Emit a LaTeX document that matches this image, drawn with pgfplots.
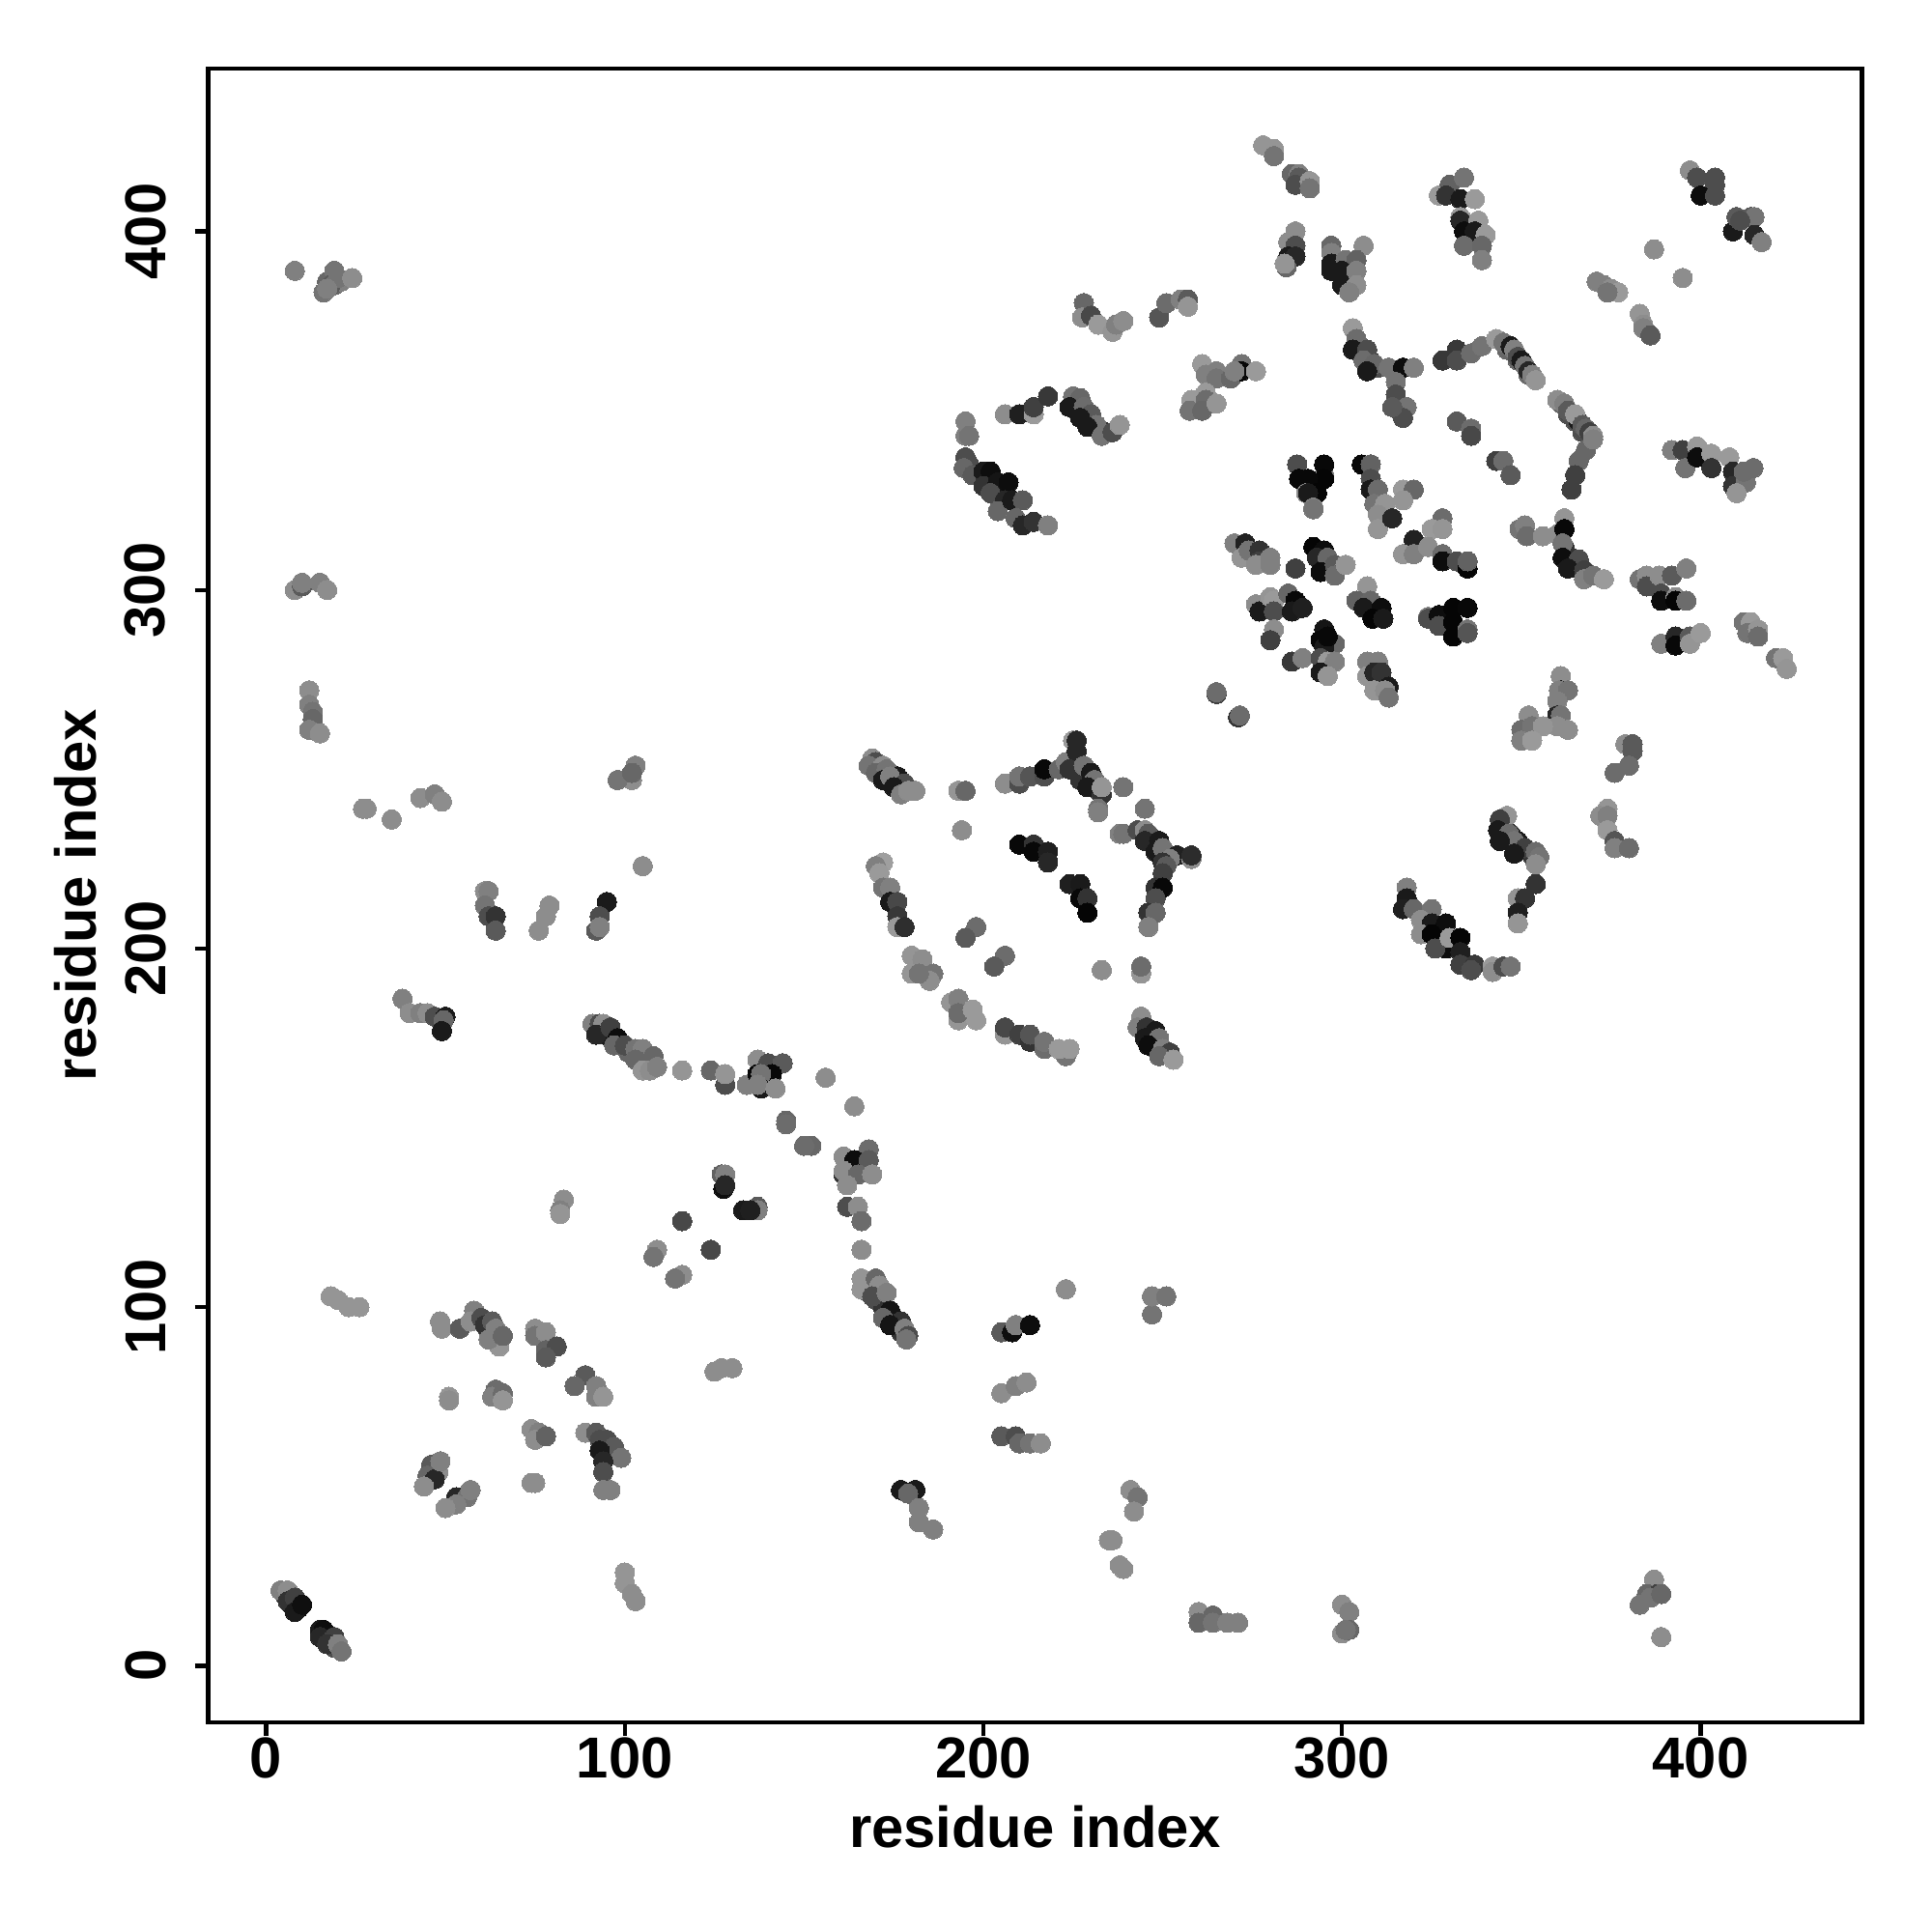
\documentclass[border=0pt]{standalone}
\usepackage{fontspec}
\setmainfont{Liberation Sans}
\usepackage{pgfplots}
\pgfplotsset{compat=1.18}
\begin{document}
\begin{tikzpicture}
\useasboundingbox (-2.156,-2.17) rectangle (17.844,17.83);
\begin{axis}[
  at={(0,0)},anchor=south west,
  scale only axis,width=17.12cm,height=17.12cm,
  xmin=-16.15,xmax=445,ymin=-15.8,ymax=445.4,
  axis line style={line width=1.25pt},
  tick style={line width=1.25pt,black},
  major tick length=0.14cm,
  tick align=outside,xtick pos=bottom,ytick pos=left,
  xtick={0,100,200,300,400},ytick={0,100,200,300,400},
  /pgf/number format/assume math mode=true,
  /pgf/number format/.cd,1000 sep={},/tikz/.cd,
  xticklabel style={font=\fontsize{17}{18}\selectfont\bfseries,yshift=3pt},
  yticklabel style={font=\fontsize{17}{18}\selectfont\bfseries,rotate=90,anchor=south,yshift=5pt},
  xlabel={residue index},ylabel={residue index},
  xlabel style={font=\fontsize{17}{18}\selectfont\bfseries,at={(axis description cs:0.5,-0.063)},anchor=center},
  ylabel style={font=\fontsize{17}{18}\selectfont\bfseries,at={(axis description cs:-0.08,0.5)},anchor=center,rotate=0},
  colormap={bw}{gray(0cm)=(0); gray(1cm)=(1)},
  point meta min=0,point meta max=1,
  clip=true,
]
\addplot[scatter,only marks,mark=*,mark size=2.85pt,scatter src=explicit,
  scatter/use mapped color={draw=mapped color,fill=mapped color},mark options={line width=0pt}]
 table[x=x,y=y,meta=g]{
x y g
171 250 .4
173 248 .3
175 246 .2
177 245 .3
94 176 .2
96 175 .1
99 173 .2
101 171 .4
168 104 .4
170 102 .3
172 100 .2
175 97 .1
177 93 .2
228 248 .2
230 246 .2
232 244 .3
247 175 .2
248 173 .2
250 171 .3
247 230 .3
249 228 .2
251 226 .3
305 366 .2
308 364 .2
310 362 .3
346 367 .4
349 364 .4
352 360 .4
361 352 .4
363 349 .3
365 347 .3
367 344 .3
369 343 .3
362 312 .2
364 309 .2
366 306 .2
368 305 .3
345 234 .2
347 232 .2
349 230 .1
351 228 .2
353 226 .2
226 350 .2
228 348 .1
230 347 .2
232 345 .2
234 344 .2
5 20 .3
7 17 .1
9 16 .05
16 8 .1
18 7 .1
19 5 .3
17 386 .4
19 385 .4
21 386 .5
62 93 .4
64 92 .3
95 60 .2
4 21 .5
6 21 .55
6 18 .2
8 19 .25
8 15 .1
10 17 .06
15 10 .1
16 10 .05
15 8 .15
19 8 .25
17 6 .2
20 6 .5
21 4 .45
18 103 .58
20 102 .58
23 100 .58
26 100 .58
48.5 96 .55
49 94 .55
54 94 .35
58 99 .5
57 96 .55
60 97 .3
61 95 .2
63 96 .35
64 94 .5
65 89 .58
62 91 .5
66 92 .4
75 94 .55
75 92 .45
78 93 .55
78 88 .38
81 89 .3
78 86 .35
89 81 .35
86 78 .4
92 78 .5
92 75 .5
94 75 .58
51 75 .58
51 74 .55
64 77 .42
63 75 .5
66 76 .42
66 74 .58
74 66 .55
76 65 .5
75 63 .55
78 64 .38
89 65 .55
92 65 .35
93 63 .3
95 63 .3
97 61 .35
93 60 .1
99 58 .45
94 57 .15
94 54 .3
94 49 .5
96 49 .5
46 56 .35
48 54 .55
45 53 .4
47 52 .15
48.6 57 .5
44 50 .55
53 47 .15
56 47 .45
57 49 .5
53 45 .5
50 44 .55
74 51 .55
75 51 .55
100 26 .58
100 23 .58
102 20 .55
103 18 .55
91 179 .5
93 179 .3
94 179 .55
92 176 .15
96 178 .25
98 175 .05
97 173 .4
100 173 .3
103 172 .45
105 172 .5
103 169 .4
108 170 .4
105 166 .58
107 166 .55
109 167 .5
116 166 .58
124 166 .4
128 162 .3
128 165 .58
134 162 .5
137 169 .55
140 168 .3
144 168 .35
141 165 .03
137 165 .03
138 165 .45
138 161 .1
137 162 .5
142 161 .55
156 164 .55
164 156 .55
145 152 .4
145 151 .42
152 145 .4
150 145 .42
168 144 .42
161 142 .55
164 141 .05
168 141 .35
161 137 .2
161 138 .55
165 137 .4
169 137 .55
162 134 .55
127 137 .38
128 137 .5
127.5 133 .05
128 134 .15
133 127 .1
137 128 .35
137 127 .5
135 127 .12
162 128 .3
165 128 .55
166 124 .42
116 124 .28
124 116 .28
166 116 .55
83 130 .55
82 127 .5
82 126 .58
109 116 .55
108 114 .45
116 109 .55
114 108 .45
166 108 .58
166 105 .58
170 108 .4
171 106 .55
169 103 .3
173 104 .5
174 99 .08
172 97 .4
177 96 .2
174 95 .08
178 94 .5
179 92 .3
178.5 91 .45
127 83 .55
130 83 .55
125 82 .55
205 93 .35
208 93 .05
209 95 .5
213 95 .05
205 76 .55
209 78 .5
212 79 .55
205 64 .35
209 64 .3
210 62 .4
213 62 .45
216 62 .55
223 105 .55
247 98 .45
247 103 .5
251 103 .45
177 49 .1
181 49 .1
179 48 .4
182 44 .5
182 40 .5
186 38 .5
241 49 .55
243 47 .45
242 43 .55
235 35 .55
236 35 .55
238 28 .55
239 27 .55
260 15 .55
260 12 .4
264 14 .4
264 12 .45
268 12 .5
271 12 .5
300 17 .55
302 15 .5
300 9 .55
302 10 .4
301 10 .45
387 24 .55
385 20 .4
383 17 .45
388 20 .25
386 19 .45
389 20 .4
389 8 .55
8 389 .5
16 383 .45
19 389 .45
18 385 .35
20 387 .45
17 384 .5
24 387 .55
8 300 .55
10 301 .35
10 302 .5
15 302 .5
17 300 .55
12 272 .55
12 268 .5
13 266 .45
13 264 .4
12 261 .5
15 260 .55
27 239 .55
28 239 .55
35 236 .55
43 242 .55
47 243 .5
49 241 .55
103 251 .5
102 247 .55
98 247 .45
102 249 .4
105 223 .55
61 216 .55
62 216 .5
61 212 .45
62 209 .3
64 209 .2
64 205 .35
76 205 .55
78 209 .55
79 212 .55
95 213 .1
93 209 .3
92 205 .35
93 206 .5
38 186 .5
40 182 .55
43 182 .5
45 182 .55
47 181 .3
50 181 .1
49.5 180 .4
49 177 .1
169 253 .55
170 252 .3
168 251 .45
172 251 .55
170 249 .4
173 250 .45
172 247 .1
176 248 .1
174 248 .5
178 246 .3
175 245 .1
177 243 .5
179 244 .55
181 244 .55
193 244 .58
195 244 .4
194 233 .55
206 246 .55
210 246 .3
210 248 .45
213 248 .33
217 248 .3
217 250 .03
221 250 .4
223 252 .5
225 258 .6
226 258 .15
226 255 .15
224 250 .2
227 247 .2
228 251 .45
230 249 .1
231 247 .45
229 245 .1
233 243 .2
233 245 .58
232 239 .45
232 238 .5
239 245 .45
245 239 .45
238 232 .5
239 232 .45
243 233 .3
245 233 .55
246 232 .35
245 230 .15
249 230 .1
248 227 .1
250 228 .45
254 226 .13
252 225 .5
258 225 .55
258 226 .17
250 224 .2
251 223 .35
250 221 .25
248 217 .2
250 217 .03
248 214 .3
246 210 .2
248 210 .4
246 206 .5
210 229 .03
214 229 .2
214 227 .03
218 227 .12
218 224 .15
224 218 .12
227 218 .1
227 214 .03
229 214 .2
229 210 .02
172 224 .62
170 223 .5
171 221 .6
172 217 .45
174 217 .5
174 213 .1
176 213 .28
176 209 .22
176 206 .6
178 206 .18
198 206 .42
195 203 .35
206 198 .42
203 195 .35
180 198 .58
183 197 .55
186 193 .45
185 191 .55
180 193 .58
182 193 .45
233 194 .55
244 193 .58
244 195 .42
191 185 .58
193 186 .5
193 180 .58
193 182 .42
197 183 .6
198 180 .6
206 176 .58
206 178 .28
210 176 .25
213 174 .2
213 176 .33
217 172 .42
217 174 .45
223 170 .45
221 172 .6
224 172 .6
244 181 .55
243 178 .5
245.5 178 .2
248 177 .1
245 175 .1
249 175 .45
246 173 .05
250 172 .5
252 171 .25
249 170 .4
253 169 .6
287.5 335 .3
295 332 .5
295 335 .03
288 331 .03
295 331 .02
290.5 331 .03
290 327 .55
293 327 .02
290.5 327 .1
292 323 .5
292 322.5 .45
305.5 335 .03
308 335 .38
308 331 .3
308 328 .1
310 328 .42
309 324 .45
312 324 .58
310 321 .55
310 317 .58
314 320 .15
317 328 .6
320 328 .4
317 325 .58
328 320 .42
325 317 .6
328 317 .58
320 314 .13
317 310 .58
320 310 .5
324 312 .55
328 310 .42
328 308 .05
332 308 .3
335 306 .02
335 308 .38
270 313 .5
273 313 .13
272 309 .58
274 311 .45
277 311 .2
277 308 .25
276 307 .55
280 309 .5
280 307 .5
287 306 .25
292 312 .02
295 311 .05
293 309 .15
296 309 .4
294 305 .05
298 307 .35
298 304 .42
301 307 .58
307 301 .58
304 297 .38
308 297 .4
306 295 .1
311 295 .05
308.5 292 .02
311.5 292 .1
276 296 .55
277 294 .1
280 298 .58
281 297 .6
281 294 .3
285 299 .4
287 297 .03
286 294 .1
289 295 .12
324 292.5 .5
324 292 .3
327 293 .05
327 290 .3
331 295 .02
335 295 .03
331 291 .02
331 287 .02
335 289 .45
335 288 .33
281 289 .55
280 286 .25
295 289 .08
294 286 .03
298 285 .4
295 284 .1
296 287 .03
286 280 .22
289 281 .5
294 281 .3
296 280 .6
298 280 .5
294 277 .1
296 276 .58
307 280 .5
310 280 .5
307 276 .58
309 277 .15
311 277 .2
309 272 .58
313 273 .1
312 272 .55
313 270 .45
265 271 .25
265 271.5 .42
271 264.5 .2
271.5 265 .42
332 347 .35
336 345 .42
336 343 .28
343 336 .25
345 336 .42
347 332 .35
368 339 .4
366 336 .4
365 332 .25
364 328 .25
349.5 317 .45
351 318 .5
351.5 315 .42
356 315 .55
360 315.5 .55
362 320 .58
362 317 .03
361.5 313 .45
361.5 309 .05
366 308.5 .3
363 306 .1
367.5 305.5 .25
367.5 303 .5
370 304 .45
373 303 .6
392 339 .5
395 339 .25
399 340 .6
395.7 334 .45
399 337 .05
403 338 .6
403 334 .2
408 337 .6
409 333 .15
409 329 .2
412.6 330 .45
414.7 334 .42
412 333 .42
410 327 .58
383 303 .45
385 304 .55
385 301 .3
388.5 304 .55
392 304 .35
396 306 .5
389 299 .3
389 297 .05
393 298 .55
393 297 .02
396 297 .42
389 285 .5
393 287 .15
393 284.5 .03
397 287 .35
397 285 .58
400 288 .6
412 291 .45
414 291 .6
413 288 .45
416 289 .58
416 287 .42
421 281 .45
423 281 .6
424 278 .58
361 276 .55
361 272 .1
360.5 272 .5
363 272 .45
360 269 .5
360 265 .15
361 265 .45
360 262 .55
363 261 .55
352 265 .55
350 261 .42
353 262 .45
356 262 .58
350 258 .5
353 258 .6
379 257 .55
381 257 .35
381 255 .35
380 251 .42
376 249 .42
374 239 .58
372 237 .55
374 237 .5
374 233 .6
376 230 .33
376 228 .5
380 228 .42
346 237 .58
344 236 .25
343.5 233 .1
346.5 232 .42
348 230 .45
344 230 .1
351 228 .25
348 226.5 .1
354 227 .42
355 225.5 .45
354 223.5 .55
354 218 .2
349 214 .58
351 214 .2
349 210 .12
349 207 .58
318 217 .5
318 214 .1
317 211 .12
320 211 .4
325 211 .45
322 208 .55
325 207 .1
329 207 .05
322 204 .55
325 204 .02
329 200 .05
326 200 .3
330 203 .6
333 203 .02
333 199 .12
333 195.5 .25
337 195.5 .22
336 194 .3
342 195 .6
342 193.5 .55
345 195 .3
347 195 .45
278 424 .58
281 423 .58
281 421 .45
286 416 .4
288 416 .5
288 415 .35
287 413 .3
291 414 .58
291 412 .45
287 400 .55
285 397 .55
287 396 .3
285 393 .1
287 393 .15
284.5 390 .4
284 391 .58
297 396 .4
306 396 .55
297 394 .5
297 391 .1
301 392 .45
304 392 .38
297 389 .1
300 389 .1
304 389 .5
300 385 .1
304 385 .55
302 383 .5
327 410 .6
330 413 .38
334 415 .45
329 410 .2
333 409 .1
337 409 .6
333 404 .6
333 403 .15
338 403 .6
334 400 .05
337 400 .1
334 396 .42
340 399 .6
339 396 .4
339 392 .5
228 380 .4
227.5 376 .55
230 376.5 .28
232 374 .6
236 372 .58
237 374 .5
239 375 .55
249 376 .33
251 380 .42
255 381 .5
257 381 .35
257 379 .58
261 363 .6
262 360 .5
265 361 .5
265 359 .45
269 359 .4
272 363 .45
272 361 .03
270 361 .5
276 361 .6
262 355 .6
258 353 .6
262 353 .42
257.5 350 .45
261 350 .4
265 352 .58
206 349 .55
210 349 .12
214 349 .6
214 351 .25
218 354 .22
225 354 .45
227 353.5 .4
224 351 .1
228 351 .42
230 349 .35
227 348 .1
231.5 346 .45
229 345.5 .1
233 343 .45
236 344 .2
236 344 .3
238 346 .58
303 373 .6
304 370 .42
303 367 .1
307 367 .3
306 364 .42
309 363 .4
307 361 .1
313 362 .45
317 362 .05
320 362 .5
315 358 .45
315 354.5 .3
316 350 .3
318 351 .45
317 348 .3
314 351 .35
328 364 .22
332 367 .22
332 364 .3
336 366 .42
339 368 .45
343 370 .6
345 369 .45
347 368 .1
348 367 .5
349 365 .3
350 364 .1
351 362.5 .45
352 361 .15
353 360 .5
354 358.5 .58
360 353 .55
362 352 .5
363 350 .35
366 347 .1
365 349 .6
367 346 .35
368 345 .4
369 344 .25
370 343 .55
370 342 .5
397 417 .55
399 415 .3
404 415 .3
404 413 .3
400 410 .05
404 410 .3
409 400 .1
410 404 .35
414 404 .35
415 404 .45
415 399 .15
417 397 .5
411 403 .3
395 387 .55
387 395 .55
371 386 .5
373 385 .5
375 384 .55
377 383 .6
374 383 .45
383 377 .58
384 374 .55
384 373 .5
386 371 .35
195 347 .5
195 343 .5
196 343 .45
195 337 .3
196 335 .3
194.5 334 .4
197 332 .35
200 333 .1
202 333 .05
200 329 .2
204 330 .08
207 330 .05
202 327 .3
206 325 .15
204 322 .4
208 325 .1
211 325 .35
209 320 .4
211 318 .15
214 319 .2
218 318 .5
};
\end{axis}
\end{tikzpicture}
\end{document}
